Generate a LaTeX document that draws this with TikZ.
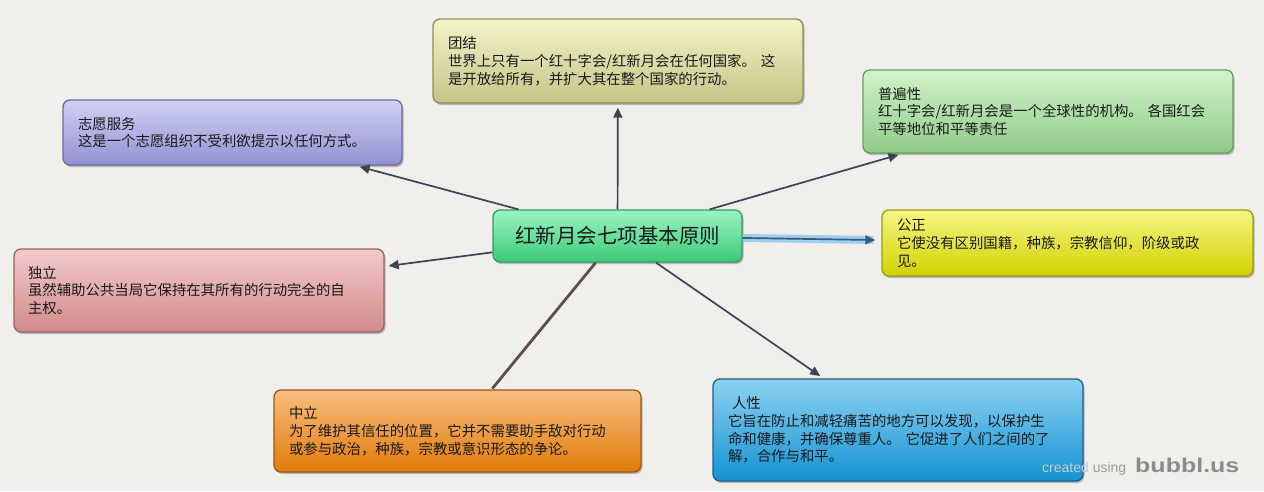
\documentclass[tikz,border=0pt]{standalone}
\usepackage{fontspec}
\setmainfont{Noto Sans CJK SC}
\newfontfamily\wmfont{Liberation Sans}
\usetikzlibrary{arrows.meta,shadows}
\definecolor{bg}{HTML}{F0EFEC}
\definecolor{ink}{HTML}{1A1A1A}
\definecolor{conn}{HTML}{3C4652}
\definecolor{brownconn}{HTML}{5C4F48}
\definecolor{glowc}{HTML}{86C4EE}
\definecolor{glowd}{HTML}{3A5C7C}
% box palettes: border, top, middle, bottom
\definecolor{tjB}{HTML}{8E8E5C}\definecolor{tjT}{HTML}{F4F4C8}\definecolor{tjM}{HTML}{E0E0A6}\definecolor{tjL}{HTML}{C4C488}
\definecolor{zyB}{HTML}{6C6C9A}\definecolor{zyT}{HTML}{D0D0F4}\definecolor{zyM}{HTML}{ACACE4}\definecolor{zyL}{HTML}{9292D2}
\definecolor{pbB}{HTML}{6A9A62}\definecolor{pbT}{HTML}{D0F4CA}\definecolor{pbM}{HTML}{AEE2A6}\definecolor{pbL}{HTML}{90CA88}
\definecolor{ctB}{HTML}{3A9A62}\definecolor{ctT}{HTML}{9AF4C2}\definecolor{ctM}{HTML}{58E098}\definecolor{ctL}{HTML}{3ACA7A}
\definecolor{gzB}{HTML}{9A9A1E}\definecolor{gzT}{HTML}{F6F684}\definecolor{gzM}{HTML}{ECEC30}\definecolor{gzL}{HTML}{D2D200}
\definecolor{dlB}{HTML}{9A6262}\definecolor{dlT}{HTML}{F2CACA}\definecolor{dlM}{HTML}{E4A6A6}\definecolor{dlL}{HTML}{D28A8A}
\definecolor{zlB}{HTML}{9A5A12}\definecolor{zlT}{HTML}{F8BE80}\definecolor{zlM}{HTML}{F09028}\definecolor{zlL}{HTML}{E27A08}
\definecolor{rxB}{HTML}{1F5F88}\definecolor{rxT}{HTML}{8CD2F2}\definecolor{rxM}{HTML}{30A8E2}\definecolor{rxL}{HTML}{1492D2}
\definecolor{wmA}{HTML}{CACACA}\definecolor{wmB}{HTML}{9C9C9C}\definecolor{wmC}{HTML}{8C8C8C}
\tikzset{
  box/.style n args={4}{rounded corners=7pt, draw=#1, line width=1.3pt,
    top color=#2, middle color=#3, bottom color=#4,
    drop shadow={shadow xshift=1.5pt, shadow yshift=-2pt, opacity=0.35, fill=black!70},
    text=ink, align=left, inner xsep=15pt, inner ysep=0pt,
    font=\fontsize{14.4}{17.8}\selectfont},
  link/.style={draw=conn, line width=1.7pt, shorten >=4pt,
    -{Triangle[length=10pt,width=9pt]}},
  thicklink/.style={draw=brownconn, line width=2.8pt, shorten >=1pt},
  glowline/.style={draw=glowc, line width=8pt, opacity=0.75, shorten >=8pt},
  glowlink/.style={draw=glowd, line width=1.7pt, shorten >=6pt,
    -{Triangle[length=10pt,width=9pt]}},
  wm/.style={anchor=base west, inner sep=0pt, font=\wmfont}
}
\begin{document}
\begin{tikzpicture}[x=1pt,y=-1pt]
\fill[bg] (0,0) rectangle (1264,491);
\useasboundingbox (0,0) rectangle (1264,491);

\node[box={tjB}{tjT}{tjM}{tjL}, text width=340pt, minimum height=84pt] (tj) at (618,61)
 {团结\\世界上只有一个红十字会/红新月会在任何国家。 这\\是开放给所有，并扩大其在整个国家的行动。};
\node[box={zyB}{zyT}{zyM}{zyL}, text width=309pt, minimum height=65pt] (zy) at (232.5,132.5)
 {志愿服务\\这是一个志愿组织不受利欲提示以任何方式。};
\node[box={pbB}{pbT}{pbM}{pbL}, text width=340pt, minimum height=83pt] (pb) at (1048,111.5)
 {普遍性\\红十字会/红新月会是一个全球性的机构。 各国红会\\平等地位和平等责任};
\node[box={gzB}{gzT}{gzM}{gzL}, text width=341pt, minimum height=66pt] (gz) at (1067.5,243)
 {公正\\它使没有区别国籍，种族，宗教信仰，阶级或政\\见。};
\node[box={dlB}{dlT}{dlM}{dlL}, text width=342pt, minimum height=83pt, inner xsep=14pt] (dl) at (199,290.5)
 {独立\\虽然辅助公共当局它保持在其所有的行动完全的自\\主权。};
\node[box={zlB}{zlT}{zlM}{zlL}, text width=337pt, minimum height=82pt] (zl) at (457.5,431)
 {中立\\为了维护其信任的位置，它并不需要助手敌对行动\\或参与政治，种族，宗教或意识形态的争论。};
\node[box={rxB}{rxT}{rxM}{rxL}, text width=340pt, minimum height=102pt] (rx) at (898,430)
 {\hspace*{4pt}人性\\它旨在防止和减轻痛苦的地方可以发现，以保护生\\命和健康，并确保尊重人。 它促进了人们之间的了\\解，合作与和平。};
\node[box={ctB}{ctT}{ctM}{ctL}, text width=219pt, minimum height=52pt, align=center,
      font=\fontsize{20.5}{24}\selectfont] (ctr) at (617.5,236)
 {红新月会七项基本原则};

\draw[link] (ctr) -- (zy);
\draw[link] (ctr) -- (tj);
\draw[link] (ctr) -- (pb);
\draw[link] (ctr) -- (dl);
\draw[link] (ctr) -- (rx);
\draw[thicklink] (ctr) -- (zl);
\draw[glowline] (ctr) -- (gz);
\draw[glowlink] (ctr) -- (gz);

\node[wm] (wm1) at (1042,472) {\fontsize{14}{16}\selectfont\textcolor{wmA}{created}\ \textcolor{wmB}{using}};
\node[wm, anchor=base west] (wm2) at (1135,472) {\fontsize{20}{22}\selectfont\bfseries\textcolor{wmC}{\scalebox{1.25}[1]{bubbl.us}}};
\end{tikzpicture}
\end{document}
